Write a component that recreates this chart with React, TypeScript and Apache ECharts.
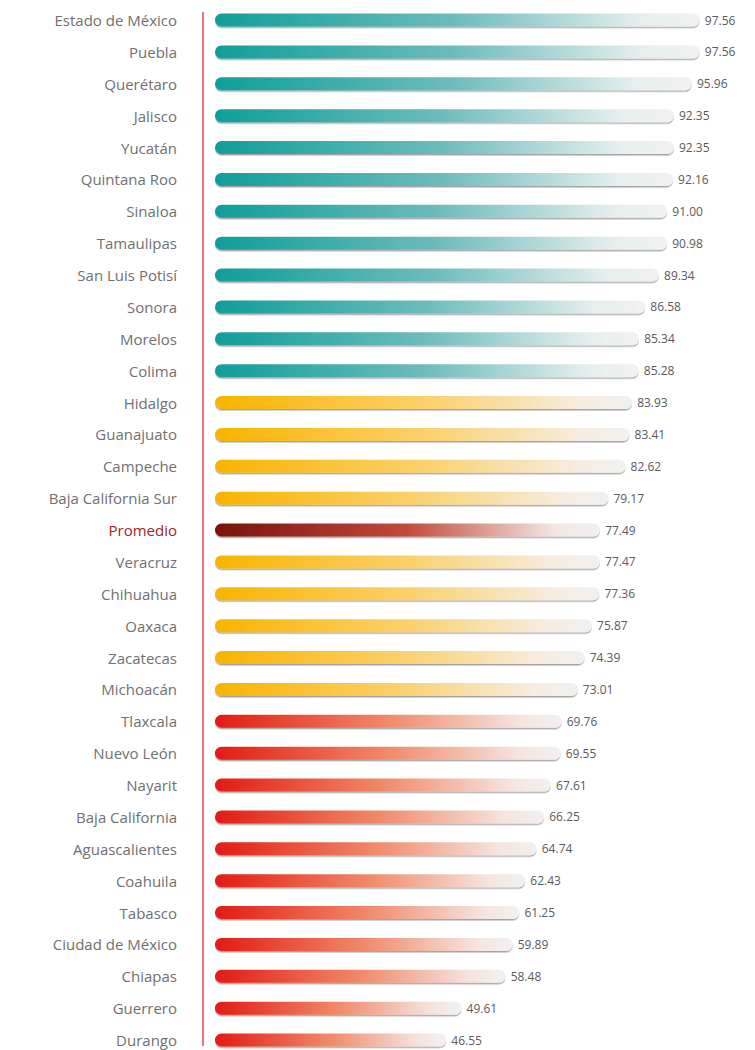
import React, { useEffect, useRef } from "react";
import * as echarts from "echarts";

const states = [
  "Estado de México", "Puebla", "Querétaro", "Jalisco", "Yucatán", "Quintana Roo",
  "Sinaloa", "Tamaulipas", "San Luis Potisí", "Sonora", "Morelos", "Colima",
  "Hidalgo", "Guanajuato", "Campeche", "Baja California Sur", "Promedio",
  "Veracruz", "Chihuahua", "Oaxaca", "Zacatecas", "Michoacán", "Tlaxcala",
  "Nuevo León", "Nayarit", "Baja California", "Aguascalientes", "Coahuila",
  "Tabasco", "Ciudad de México", "Chiapas", "Guerrero", "Durango",
];

const values = [
  97.56, 97.56, 95.96, 92.35, 92.35, 92.16, 91.0, 90.98, 89.34, 86.58, 85.34, 85.28,
  83.93, 83.41, 82.62, 79.17, 77.49, 77.47, 77.36, 75.87, 74.39, 73.01, 69.76,
  69.55, 67.61, 66.25, 64.74, 62.43, 61.25, 59.89, 58.48, 49.61, 46.55,
];

const groups = [
  "alto", "alto", "alto", "alto", "alto", "alto", "alto", "alto", "alto", "alto", "alto", "alto",
  "medio", "medio", "medio", "medio", "promedio", "medio", "medio", "medio", "medio", "medio",
  "bajo", "bajo", "bajo", "bajo", "bajo", "bajo", "bajo", "bajo", "bajo", "bajo", "bajo",
];

const palette: Record<string, string[]> = {
  alto: ["#0f9e9a", "#6dbdbc", "#e6eeee", "#f1f1f1"],
  medio: ["#f8b400", "#fbd06a", "#f6ece0", "#f1f1f1"],
  promedio: ["#7a120c", "#c24a3c", "#f3e6e2", "#f1f1f1"],
  bajo: ["#e31b12", "#f08a6a", "#f6e4de", "#f1f1f1"],
};

function gradient(g: string) {
  const c = palette[g];
  return new echarts.graphic.LinearGradient(0, 0, 1, 0, [
    { offset: 0, color: c[0] },
    { offset: 0.5, color: c[1] },
    { offset: 0.88, color: c[2] },
    { offset: 1, color: c[3] },
  ]);
}

export default function App() {
  const ref = useRef<HTMLDivElement>(null);
  useEffect(() => {
    if (!ref.current) return;
    const chart = echarts.init(ref.current, undefined, { renderer: "svg" });
    const data = values.map((v, i) => ({
      value: v,
      itemStyle: { color: gradient(groups[i]) },
    }));
    chart.setOption({
      animation: false,
      grid: { left: 215, right: 43, top: 20, bottom: 10 },
      xAxis: { type: "value", min: 0, max: 100, show: false },
      yAxis: {
        type: "category",
        data: states,
        inverse: true,
        boundaryGap: false,
        axisLine: { show: false },
        axisTick: { show: false },
        splitLine: { show: false },
        axisLabel: {
          margin: 38,
          fontFamily: "Open Sans",
          fontSize: 15,
          color: (val: string) => (val === "Promedio" ? "#a3241a" : "#707070"),
        },
      },
      graphic: [
        {
          type: "line",
          shape: { x1: 203, y1: 12, x2: 203, y2: 1046 },
          style: { stroke: "#e0474a", lineWidth: 1.5 },
        },
      ],
      series: [
        {
          type: "bar",
          data,
          barWidth: 13,
          itemStyle: {
            borderRadius: 7,
            shadowColor: "rgba(0,0,0,0.35)",
            shadowOffsetY: 1.5,
            shadowBlur: 1,
          },
          label: {
            show: true,
            position: "right",
            distance: 5,
            fontFamily: "Open Sans",
            fontSize: 12,
            color: "#5a5a5a",
            formatter: (p: any) => Number(p.value).toFixed(2),
          },
        },
      ],
    });
    return () => chart.dispose();
  }, []);
  return (
    <div
      ref={ref}
      style={{ position: "absolute", left: 0, top: 0, width: 755, height: 1050 }}
    />
  );
}
